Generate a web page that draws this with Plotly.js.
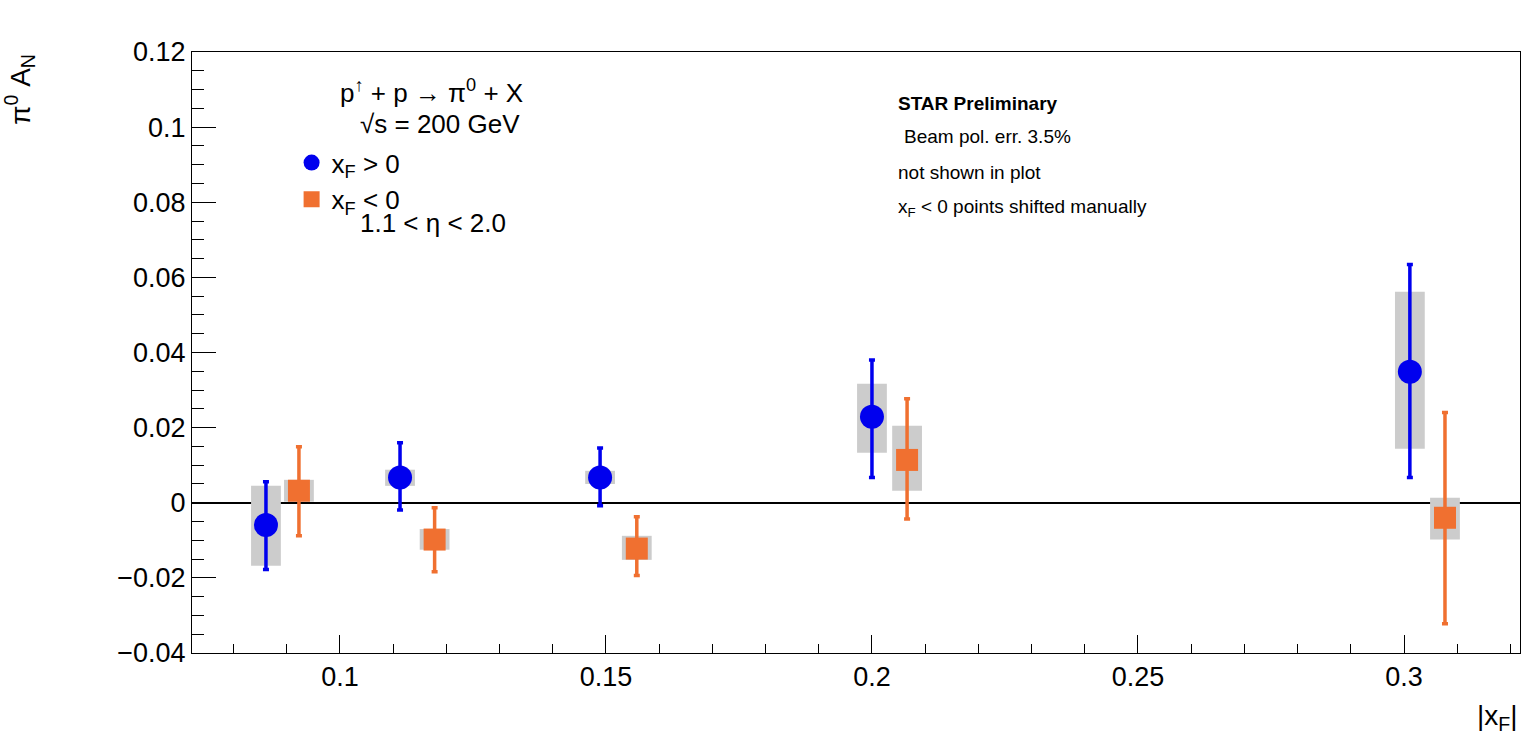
<!DOCTYPE html>
<html>
<head>
<meta charset="utf-8">
<script src="https://cdn.plot.ly/plotly-3.0.1.min.js"></script>
<style>body{margin:0;background:#fff}#chart{width:1532px;height:752px}</style>
</head>
<body>
<div id="chart"></div>
<script>
// xF > 0
const posX = [0.0861, 0.1113, 0.1489, 0.2000, 0.3011];
const posY = [-0.0059, 0.0067, 0.0067, 0.0229, 0.0349];
const posErrHi = [0.0056, 0.0160, 0.0146, 0.0380, 0.0634];
const posErrLo = [-0.0178, -0.0019, -0.0008, 0.0067, 0.0067];
const posSysHi = [0.0045, 0.0088, 0.0085, 0.0317, 0.0562];
const posSysLo = [-0.0168, 0.0045, 0.0050, 0.0133, 0.0144];

// xF < 0 (shifted)
const negX = [0.0923, 0.1178, 0.1558, 0.2066, 0.3077];
const negY = [0.0032, -0.0098, -0.0122, 0.0114, -0.0040];
const negErrHi = [0.0149, -0.0013, -0.0037, 0.0277, 0.0240];
const negErrLo = [-0.0088, -0.0184, -0.0194, -0.0043, -0.0322];
const negSysHi = [0.0061, -0.0070, -0.0088, 0.0205, 0.0013];
const negSysLo = [0.0003, -0.0125, -0.0152, 0.0032, -0.0098];

const sysWidth = 0.0056;
const font = 'Liberation Sans, Arial, sans-serif';

function sysBars(x, lo, hi) {
  return {
    type: 'bar', x: x, base: lo, y: hi.map((h, i) => h - lo[i]),
    width: x.map(() => sysWidth), marker: { color: '#cccccc', line: { width: 0 } },
    showlegend: false, hoverinfo: 'skip'
  };
}

function points(x, y, hi, lo, color, symbol, size, name) {
  return {
    type: 'scatter', mode: 'markers', x: x, y: y, name: name,
    marker: { color: color, symbol: symbol, size: size },
    error_y: {
      type: 'data', symmetric: false,
      array: hi.map((h, i) => h - y[i]), arrayminus: y.map((v, i) => v - lo[i]),
      color: color, thickness: 3.5, width: 3
    }
  };
}

const data = [
  sysBars(posX, posSysLo, posSysHi),
  sysBars(negX, negSysLo, negSysHi),
  points(posX, posY, posErrHi, posErrLo, '#0000ee', 'circle', 24, 'x<sub>F</sub> > 0'),
  points(negX, negY, negErrHi, negErrLo, '#f07030', 'square', 22, 'x<sub>F</sub> < 0')
];

const layout = {
  width: 1532, height: 752,
  margin: { l: 192, r: 12, t: 52, b: 99 },
  paper_bgcolor: '#fff', plot_bgcolor: '#fff',
  font: { family: font, size: 27, color: '#000' },
  barmode: 'overlay',
  showlegend: true,
  legend: { x: 0.075, y: 0.855, xanchor: 'left', yanchor: 'top', bgcolor: 'rgba(0,0,0,0)', font: { size: 26 }, tracegroupgap: 0 },
  xaxis: {
    range: [0.0722, 0.3218], tickvals: [0.1, 0.15, 0.2, 0.25, 0.3], ticktext: ['0.1', '0.15', '0.2', '0.25', '0.3'],
    ticks: 'inside', ticklen: 18, tickcolor: '#000', showgrid: false, zeroline: false,
    showline: true, mirror: true, linecolor: '#000', linewidth: 1,
    minor: { dtick: 0.01, tick0: 0, ticks: 'inside', ticklen: 9, tickcolor: '#000' }
  },
  yaxis: {
    range: [-0.04, 0.12],
    tickvals: [-0.04, -0.02, 0, 0.02, 0.04, 0.06, 0.08, 0.1, 0.12],
    ticktext: ['\u22120.04', '\u22120.02', '0', '0.02', '0.04', '0.06', '0.08', '0.1', '0.12'],
    ticks: 'inside', ticklen: 24, tickcolor: '#000', showgrid: false,
    zeroline: true, zerolinecolor: '#000', zerolinewidth: 1.5,
    showline: true, mirror: true, linecolor: '#000', linewidth: 1,
    minor: { dtick: 0.005, tick0: 0, ticks: 'inside', ticklen: 12, tickcolor: '#000' }
  },
  annotations: [
    { xref: 'paper', yref: 'paper', x: 1, y: -0.075, xanchor: 'right', yanchor: 'top', showarrow: false,
      text: '|x<sub>F</sub>|', font: { size: 28 } },
    { xref: 'paper', yref: 'paper', x: -0.13, y: 1.0, xanchor: 'center', yanchor: 'top', showarrow: false, textangle: -90,
      text: '\u03c0<sup>0</sup> A<sub>N</sub>', font: { size: 28 } },
    { xref: 'paper', yref: 'paper', x: 0.11, y: 0.935, xanchor: 'left', yanchor: 'middle', showarrow: false,
      text: 'p<sup>\u2191</sup> + p \u2192 \u03c0<sup>0</sup> + X', font: { size: 26 } },
    { xref: 'paper', yref: 'paper', x: 0.125, y: 0.88, xanchor: 'left', yanchor: 'middle', showarrow: false,
      text: '\u221as = 200 GeV', font: { size: 26 } },
    { xref: 'paper', yref: 'paper', x: 0.125, y: 0.715, xanchor: 'left', yanchor: 'middle', showarrow: false,
      text: '1.1 < \u03b7 < 2.0', font: { size: 26 } },
    { xref: 'paper', yref: 'paper', x: 0.53, y: 0.915, xanchor: 'left', yanchor: 'middle', showarrow: false,
      text: '<b>STAR Preliminary</b>', font: { size: 19 } },
    { xref: 'paper', yref: 'paper', x: 0.535, y: 0.86, xanchor: 'left', yanchor: 'middle', showarrow: false,
      text: 'Beam pol. err. 3.5%', font: { size: 19 } },
    { xref: 'paper', yref: 'paper', x: 0.53, y: 0.80, xanchor: 'left', yanchor: 'middle', showarrow: false,
      text: 'not shown in plot', font: { size: 19 } },
    { xref: 'paper', yref: 'paper', x: 0.53, y: 0.74, xanchor: 'left', yanchor: 'middle', showarrow: false,
      text: 'x<sub>F</sub> < 0 points shifted manually', font: { size: 19 } }
  ]
};

Plotly.newPlot('chart', data, layout, { displayModeBar: false, staticPlot: true });
</script>
</body>
</html>
